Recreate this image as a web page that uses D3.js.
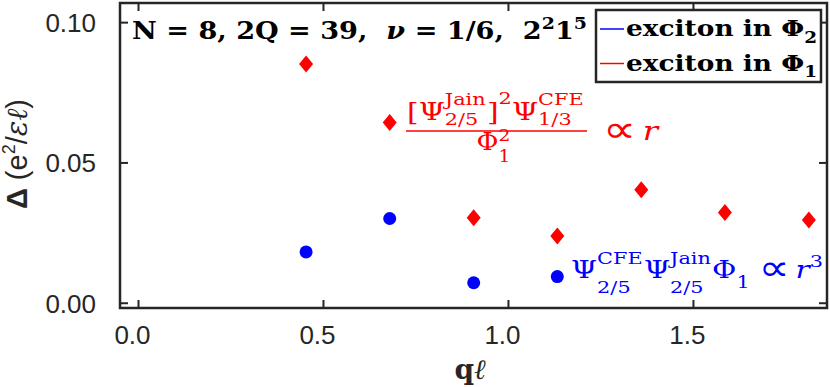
<!DOCTYPE html>
<html><head><meta charset="utf-8">
<script src="https://cdn.jsdelivr.net/npm/d3@7"></script>
<style>body{margin:0;background:#fff}text{white-space:pre}</style>
</head><body>
<svg id="c" width="830" height="387"></svg>
<script>
// ---- data ----
const qPhi1 = [0.453, 0.679, 0.906, 1.132, 1.359, 1.585, 1.812];
const deltaPhi1 = [0.0853, 0.0644, 0.0305, 0.0240, 0.0404, 0.0323, 0.0297];
const qPhi2 = [0.453, 0.679, 0.906, 1.132];
const deltaPhi2 = [0.0183, 0.0302, 0.0073, 0.0095];
const xTicks = [0, 0.5, 1.0, 1.5];
const xTickLabels = ["0.0", "0.5", "1.0", "1.5"];
const yTicks = [0, 0.05, 0.10];
const yTickLabels = ["0.00", "0.05", "0.10"];
const legendLabels = ["exciton in Φ", "exciton in Φ"];
const legendSubs = ["2", "1"];

const svg = d3.select("#c");
const W = 830, H = 387;
const m = {l: 120, r: 3, t: 3, b: 79};
const x = d3.scaleLinear().domain([-0.05, 1.861]).range([m.l, W - m.r]);
const y = d3.scaleLinear().domain([-0.0017, 0.107]).range([H - m.b, m.t]);
const AX = "#262626";
const SANS = "'Liberation Sans', Arial, sans-serif";
const SERIF = "'DejaVu Serif', serif";
const DSANS = "'DejaVu Sans', sans-serif";

// ticks (inside, mirrored)
const tl = 8;
const g = svg.append("g");
xTicks.forEach((v, i) => {
  g.append("line").attr("x1", x(v)).attr("x2", x(v)).attr("y1", y.range()[0]).attr("y2", y.range()[0] - tl).attr("stroke", AX).attr("stroke-width", 2);
  g.append("line").attr("x1", x(v)).attr("x2", x(v)).attr("y1", y.range()[1]).attr("y2", y.range()[1] + tl).attr("stroke", AX).attr("stroke-width", 2);
  g.append("text").attr("x", x(v) - 6).attr("y", y.range()[0] + 36).attr("text-anchor", "middle")
    .attr("font-family", SANS).attr("font-size", 26).attr("fill", AX).text(xTickLabels[i]);
});
yTicks.forEach((v, i) => {
  g.append("line").attr("x1", x.range()[0]).attr("x2", x.range()[0] + tl).attr("y1", y(v)).attr("y2", y(v)).attr("stroke", AX).attr("stroke-width", 2);
  g.append("line").attr("x1", x.range()[1]).attr("x2", x.range()[1] - tl).attr("y1", y(v)).attr("y2", y(v)).attr("stroke", AX).attr("stroke-width", 2);
  g.append("text").attr("x", x.range()[0] - 24).attr("y", y(v) + 9.5).attr("text-anchor", "end")
    .attr("font-family", SANS).attr("font-size", 26).attr("fill", AX).text(yTickLabels[i]);
});
// box
svg.append("rect").attr("x", x.range()[0]).attr("y", y.range()[1])
  .attr("width", x.range()[1] - x.range()[0]).attr("height", y.range()[0] - y.range()[1])
  .attr("fill", "none").attr("stroke", AX).attr("stroke-width", 2.5);

// markers
svg.append("g").selectAll("path").data(qPhi1.map((q, i) => [q, deltaPhi1[i]])).join("path")
  .attr("d", d => { const cx = x(d[0]), cy = y(d[1]); return `M${cx},${cy-8.5}L${cx+7},${cy}L${cx},${cy+8.5}L${cx-7},${cy}Z`; })
  .attr("fill", "#ff0000");
svg.append("g").selectAll("circle").data(qPhi2.map((q, i) => [q, deltaPhi2[i]])).join("circle")
  .attr("cx", d => x(d[0])).attr("cy", d => y(d[1])).attr("r", 6.5).attr("fill", "#0000ff");

// math row helper: lays items out from (0,0) at given size, returns width
function mathRow(parent, items, size, fill) {
  let cx = 0;
  items.forEach(it => {
    if (it.t !== undefined) {
      const s = (it.s || 1) * size;
      const t = parent.append("text").attr("x", cx).attr("y", (it.dy || 0) * size)
        .attr("font-size", s).attr("font-family", it.ff || SERIF)
        .attr("font-style", it.i ? "italic" : "normal").attr("font-weight", it.b ? "bold" : "normal")
        .attr("fill", fill).text(it.t);
      cx += t.node().getComputedTextLength() + (it.sp || 0) * size;
    } else {
      let w = 0;
      const mk = (txt, dy) => {
        const t = parent.append("text").attr("x", cx).attr("y", dy * size)
          .attr("font-size", (it.s || 0.7) * size).attr("font-family", SERIF)
          .attr("font-weight", it.b ? "bold" : "normal").attr("fill", fill).text(txt);
        w = Math.max(w, t.node().getComputedTextLength());
      };
      if (it.sup) mk(it.sup, it.supDy !== undefined ? it.supDy : -0.45);
      if (it.sub) mk(it.sub, it.subDy !== undefined ? it.subDy : 0.3);
      cx += w + (it.sp !== undefined ? it.sp : 0.04) * size;
    }
  });
  return cx;
}
// place a row at (x0,y0) with font size, compressing horizontally to targetW
function fitRow(items, x0, y0, size, targetW, fill, anchor) {
  const gx = svg.append("g");
  const inner = gx.append("g");
  const w = mathRow(inner, items, size, fill);
  const sx = targetW / w;
  const xs = anchor === "middle" ? x0 - targetW / 2 : x0;
  gx.attr("transform", `translate(${xs},${y0}) scale(${sx},1)`);
}

// title
fitRow([
  {t: "N = 8, 2Q = 39,  ", b: 1},
  {t: "ν", i: 1, b: 1},
  {t: " = 1/6,  2", b: 1},
  {sup: "2", b: 1, supDy: -0.4, sp: 0},
  {t: "1", b: 1},
  {sup: "5", b: 1, supDy: -0.4, sp: 0}
], 132, 39, 25, 455, "#000");

// legend
svg.append("rect").attr("x", 596).attr("y", 10).attr("width", 225).attr("height", 72)
  .attr("fill", "#fff").attr("stroke", AX).attr("stroke-width", 2.5);
const legColors = ["#0000ff", "#ff0000"];
[0, 1].forEach(i => {
  const ly = 29 + i * 34.5;
  svg.append("line").attr("x1", 600).attr("x2", 624).attr("y1", ly).attr("y2", ly).attr("stroke", legColors[i]).attr("stroke-width", 1.5);
  fitRow([
    {t: legendLabels[i], b: 1},
    {sub: legendSubs[i], b: 1, subDy: 0.3, sp: 0}
  ], 626, ly + 7, 23, 191, "#000");
});

// red annotation (fraction)
const RED = "#ff0000";
fitRow([
  {t: "[Ψ"},
  {sup: "Jain", sub: "2/5", supDy: -0.6, subDy: 0.18},
  {t: "]"},
  {sup: "2", supDy: -0.65, sp: 0},
  {t: "Ψ"},
  {sup: "CFE", sub: "1/3", supDy: -0.6, subDy: 0.18}
], 407, 120, 25, 178, RED);
svg.append("line").attr("x1", 406).attr("x2", 587).attr("y1", 131).attr("y2", 131).attr("stroke", RED).attr("stroke-width", 1.5);
fitRow([
  {t: "Φ"},
  {sup: "2", sub: "1", supDy: -0.36, subDy: 0.52}
], 494, 150, 24, 35, RED, "middle");
fitRow([
  {t: "∝", s: 1.45, ff: DSANS, dy: 0.08, sp: 0.2},
  {t: "r", i: 1}
], 603, 140, 26, 55, RED);

// blue annotation
const BLUE = "#0000ff";
fitRow([
  {t: "Ψ"},
  {sup: "CFE", sub: "2/5", supDy: -0.55, subDy: 0.6},
  {t: "Ψ"},
  {sup: "Jain", sub: "2/5", supDy: -0.55, subDy: 0.6},
  {t: "Φ"},
  {sub: "1", subDy: 0.38, sp: 0.3},
  {t: "∝", s: 1.45, ff: DSANS, dy: 0.08, sp: 0.2},
  {t: "r", i: 1},
  {sup: "3", supDy: -0.45, sp: 0}
], 571, 278, 25, 252, BLUE);

// axis labels
const yl = svg.append("text").attr("transform", "translate(27,154) rotate(-90)").attr("text-anchor", "middle")
  .attr("font-family", SANS).attr("font-size", 29).attr("fill", AX);
yl.append("tspan").attr("font-weight", "bold").text("Δ ");
yl.append("tspan").text("(e");
yl.append("tspan").attr("font-size", 18).attr("dy", -12).text("2");
yl.append("tspan").attr("dy", 12).text("/");
yl.append("tspan").attr("font-style", "italic").attr("font-family", SERIF).text("εℓ");
yl.append("tspan").text(")");

const xl = svg.append("text").attr("x", 470).attr("y", 379).attr("text-anchor", "middle")
  .attr("font-size", 28).attr("fill", AX);
xl.append("tspan").attr("font-family", SERIF).attr("font-weight", "bold").text("q");
xl.append("tspan").attr("font-family", SERIF).attr("font-style", "italic").text("ℓ");
</script>
</body></html>
